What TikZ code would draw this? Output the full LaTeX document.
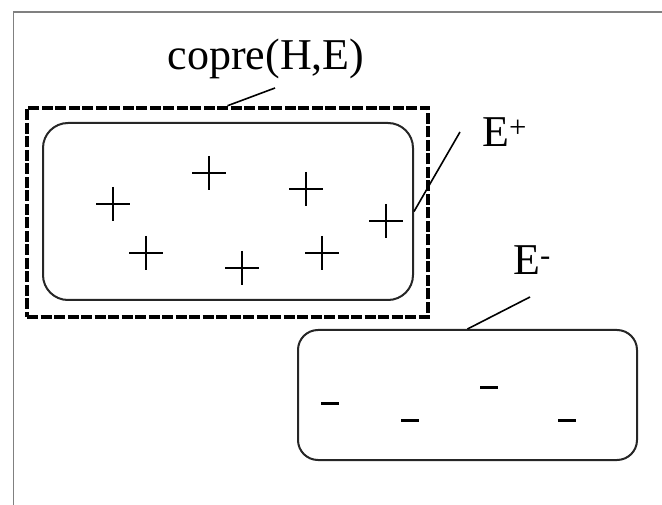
\documentclass[tikz,border=0pt]{standalone}
\usepackage{fontspec}
\setmainfont{Liberation Serif}
\usetikzlibrary{positioning}
\begin{document}
\begin{tikzpicture}[x=1pt, y=-1pt,
    setbox/.style={draw=black!85, line width=2pt, inner sep=0pt},
    lbl/.style={font=\fontsize{44}{50}\selectfont, inner sep=0pt},
    leader/.style={line width=1.6pt}]
  \useasboundingbox (0,0) rectangle (662,505);
  % frame
  \draw[gray, line width=2.5pt] (13,12) -- (662,12);
  \draw[gray, line width=1pt] (13,12) -- (13,505);
  % sets
  \node[draw=black, line width=4.5pt, dash pattern=on 11pt off 2.5pt, inner sep=0pt,
        minimum width=401pt, minimum height=209pt] (copre) at (227.5,212.5) {};
  \node[setbox, rounded corners=25pt, minimum width=370pt, minimum height=177pt] (pos) at (228,211.5) {};
  \node[setbox, rounded corners=20pt, minimum width=339pt, minimum height=130pt] (neg) at (467.5,395) {};
  % examples
  \def\ps{17}\def\ms{9}
  \foreach \x/\y in {113/204, 209/173, 306/189, 386/221, 146/253, 242/268, 322/253}{
    \draw[line width=2pt] ({\x-\ps},\y) -- ({\x+\ps},\y) (\x,{\y-\ps}) -- (\x,{\y+\ps});
  }
  \foreach \x/\y in {330/403, 410/420, 489/387, 567/420}{
    \draw[line width=3pt] ({\x-\ms},\y) -- ({\x+\ms},\y);
  }
  % labels
  \node[lbl, anchor=base] (coprelbl) at (266,70) {copre(H,E)};
  \node[lbl, anchor=base west] (poslbl) at (482,147) {E\textsuperscript{+}};
  \node[lbl, anchor=base west] (neglbl) at (513,275) {E\textsuperscript{-}};
  \coordinate (copretip) at (275,88);
  \coordinate (postip) at (460,132);
  \coordinate (negtip) at (530,297);
  \draw[leader] (copretip) -- (copre.north);
  \draw[leader] (postip) -- (pos.east);
  \draw[leader] (negtip) -- (neg.north);
\end{tikzpicture}
\end{document}
